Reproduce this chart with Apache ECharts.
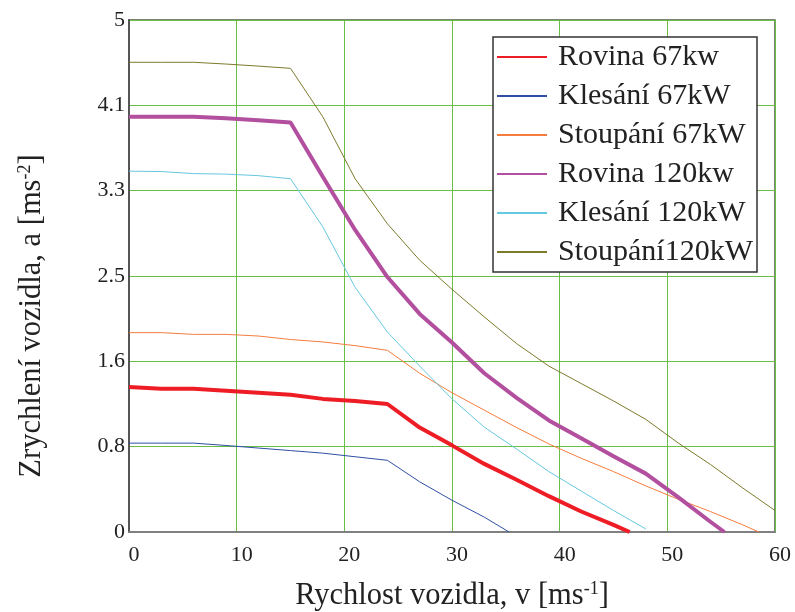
<!DOCTYPE html>
<html>
<head>
<meta charset="utf-8">
<script src="https://cdn.jsdelivr.net/npm/echarts@6/dist/echarts.min.js"></script>
<style>
html,body{margin:0;padding:0;background:#fff;}
#chart{width:795px;height:612px;}
</style>
</head>
<body>
<div id="chart"></div>
<script>
// Data: [speed (m/s), acceleration (m/s^2)]
var rovina67 = [[0,1.415],[3,1.40],[6,1.40],[9,1.38],[12,1.36],[15,1.34],[18,1.30],[21,1.28],[24,1.25],[27,1.02],[30,0.846],[33,0.665],[36,0.51],[39,0.35],[42,0.20],[45,0.07],[46.5,0]];
var klesani67 = [[0,0.868],[3,0.868],[6,0.868],[9,0.845],[12,0.82],[15,0.795],[18,0.77],[21,0.735],[24,0.70],[27,0.49],[30,0.31],[33,0.145],[35.3,0]];
var stoupani67 = [[0,1.947],[3,1.947],[6,1.93],[9,1.93],[12,1.914],[15,1.88],[18,1.856],[21,1.82],[24,1.774],[27,1.55],[30,1.36],[33,1.19],[36,1.02],[39,0.86],[42,0.72],[45,0.59],[48,0.45],[51,0.32],[54,0.2],[57,0.07],[58.5,0]];
var rovina120 = [[0,4.055],[3,4.055],[6,4.055],[9,4.04],[12,4.02],[15,4.0],[18,3.47],[21,2.95],[24,2.49],[27,2.13],[30,1.85],[33,1.55],[36,1.31],[39,1.09],[42,0.915],[45,0.74],[48,0.57],[51,0.34],[54,0.10],[55.3,0]];
var klesani120 = [[0,3.524],[3,3.52],[6,3.50],[9,3.495],[12,3.48],[15,3.45],[18,2.98],[21,2.39],[24,1.953],[27,1.62],[30,1.30],[33,1.024],[36,0.81],[39,0.59],[42,0.40],[45,0.21],[48,0.03]];
var stoupani120 = [[0,4.587],[3,4.587],[6,4.587],[9,4.57],[12,4.55],[15,4.528],[18,4.055],[21,3.45],[24,3.01],[27,2.654],[30,2.37],[33,2.1],[36,1.84],[39,1.62],[42,1.45],[45,1.28],[48,1.10],[51,0.87],[54,0.66],[57,0.43],[60,0.21]];

var seriesNames = ['Rovina 67kw','Klesání 67kW','Stoupání 67kW','Rovina 120kw','Klesání 120kW','Stoupání120kW'];
var xTickLabels = ['0','10','20','30','40','50','60'];
var yTickLabels = ['0','0.8','1.6','2.5','3.3','4.1','5'];

var seriesData = [rovina67, klesani67, stoupani67, rovina120, klesani120, stoupani120];
var colors = ['#ee1d25','#2e4fa3','#f57c3e','#b24f9e','#66c8e0','#7d7a2c'];
var widths = [4, 1, 1, 4, 1, 1];

var serif = '"Liberation Serif","DejaVu Serif",serif';

var chart = echarts.init(document.getElementById('chart'));
var series = seriesData.map(function(d, i){
  return {
    name: seriesNames[i],
    type: 'line',
    data: d,
    showSymbol: false,
    symbol: 'none',
    smooth: false,
    z: 3,
    lineStyle: {color: colors[i], width: widths[i]},
    itemStyle: {color: colors[i]}
  };
});

chart.setOption({
  animation: false,
  backgroundColor: '#ffffff',
  grid: {left: 129, right: 20, top: 20, bottom: 80, outerBoundsMode: 'none', containLabel: false,
    show: true, borderColor: '#4d5c4a', borderWidth: 1.5, backgroundColor: 'transparent'},
  legend: {
    show: true,
    orient: 'vertical',
    right: 38, top: 37,
    backgroundColor: '#ffffff',
    borderColor: '#333333',
    borderWidth: 1.5,
    padding: [5, 4, 5, 4],
    itemGap: 9,
    itemWidth: 50,
    itemHeight: 2,
    icon: 'rect',
    textStyle: {fontFamily: serif, fontSize: 30, lineHeight: 30, color: '#222', padding: [0,0,0,6]},
    data: seriesNames
  },
  xAxis: {
    type: 'value',
    min: 0, max: 60, interval: 10,
    name: 'Rychlost vozidla, v [ms{sup|-1}]',
    nameLocation: 'middle',
    nameGap: 48,
    nameTextStyle: {fontFamily: serif, fontSize: 30.5, color: '#222',
      rich: {sup: {fontFamily: serif, fontSize: 18, color: '#222', verticalAlign: 'top', padding: [0,0,13,0]}}},
    axisLine: {show: true, onZero: false, lineStyle: {color: '#808080', width: 2}},
    axisTick: {show: false},
    splitLine: {show: true, lineStyle: {color: '#6abd45', width: 1}},
    axisLabel: {fontFamily: serif, fontSize: 22, color: '#222', margin: 12, padding: [0,0,0,10],
      formatter: function(v, idx){ return xTickLabels[idx]; }}
  },
  yAxis: {
    type: 'value',
    min: 0, max: 5, interval: 5/6,
    name: 'Zrychlení vozidla, a [ms{sup|-2}]',
    nameLocation: 'middle',
    nameGap: 82,
    nameTextStyle: {fontFamily: serif, fontSize: 30.5, color: '#222', padding: [0, 80, 0, 0],
      rich: {sup: {fontFamily: serif, fontSize: 18, color: '#222', verticalAlign: 'top', padding: [0,0,13,0]}}},
    axisLine: {show: true, onZero: false, lineStyle: {color: '#555555', width: 2}},
    axisTick: {show: false},
    splitLine: {show: true, lineStyle: {color: '#6abd45', width: 1}},
    axisLabel: {fontFamily: serif, fontSize: 22, color: '#222', margin: 4,
      formatter: function(v, idx){ return yTickLabels[idx]; }}
  },
  series: series
});
</script>
</body>
</html>
